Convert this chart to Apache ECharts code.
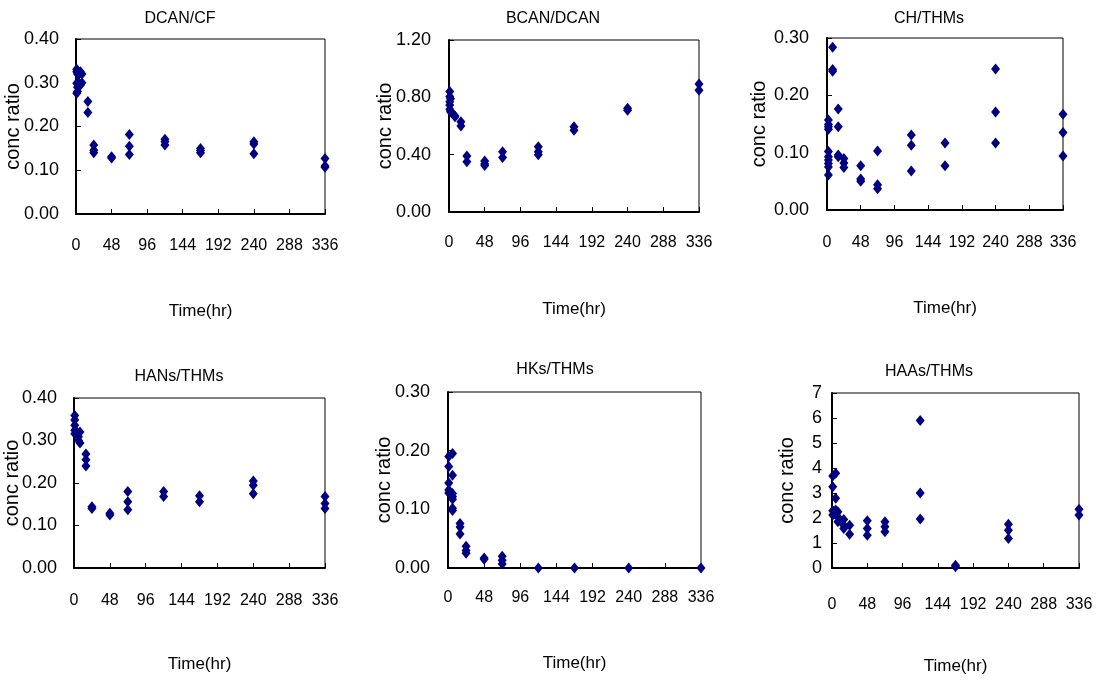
<!DOCTYPE html>
<html>
<head>
<meta charset="utf-8">
<title>conc ratio vs time</title>
<script src="https://cdn.jsdelivr.net/npm/echarts@6/dist/echarts.min.js"></script>
<style>
  html, body { margin: 0; padding: 0; background: #fff; }
  #chart { width: 1104px; height: 680px; }
</style>
</head>
<body>
<div id="chart"></div>
<script>
// panel titles and y-axis scales
var titles = ['DCAN/CF', 'BCAN/DCAN', 'CH/THMs', 'HANs/THMs', 'HKs/THMs', 'HAAs/THMs'];
var yMax = [0.4, 1.2, 0.3, 0.4, 0.3, 7];
var yStep = [0.1, 0.4, 0.1, 0.1, 0.1, 1];
var yDigits = [2, 2, 2, 2, 2, 0];
var timeMax = 336;
var timeStep = 48;

// [time (hr), conc ratio]
var dcanCf = [
  [1, 0.331], [1, 0.325], [1, 0.299], [1, 0.276], [2, 0.32], [2, 0.29], [2, 0.28],
  [4, 0.32], [4, 0.30], [6, 0.325], [6, 0.295], [8, 0.32], [8, 0.30],
  [16, 0.257], [16, 0.232],
  [24, 0.158], [24, 0.146], [24, 0.14],
  [48, 0.131], [48, 0.128],
  [72, 0.182], [72, 0.155], [72, 0.136],
  [120, 0.171], [120, 0.165], [120, 0.158],
  [168, 0.15], [168, 0.145], [168, 0.14],
  [240, 0.165], [240, 0.16], [240, 0.138],
  [336, 0.127], [336, 0.11], [336, 0.107]
];
var bcanDcan = [
  [1, 0.84], [1, 0.805], [1, 0.77], [1, 0.747], [1, 0.717], [2, 0.79], [2, 0.70],
  [4, 0.69], [6, 0.68], [8, 0.665], [8, 0.67],
  [16, 0.63], [16, 0.60],
  [24, 0.39], [24, 0.35],
  [48, 0.355], [48, 0.335], [48, 0.325],
  [72, 0.42], [72, 0.38],
  [120, 0.455], [120, 0.42], [120, 0.40],
  [168, 0.595], [168, 0.57],
  [240, 0.724], [240, 0.71],
  [336, 0.893], [336, 0.85]
];
var chThms = [
  [2, 0.157], [2, 0.149], [2, 0.145], [2, 0.141], [2, 0.102], [2, 0.093],
  [2, 0.087], [2, 0.081], [2, 0.075], [2, 0.061],
  [8, 0.284], [8, 0.245], [8, 0.242],
  [16, 0.176], [16, 0.145], [16, 0.096], [16, 0.093],
  [24, 0.09], [24, 0.082], [24, 0.074],
  [48, 0.077], [48, 0.054], [48, 0.05],
  [72, 0.103], [72, 0.044], [72, 0.037],
  [120, 0.131], [120, 0.113], [120, 0.068],
  [168, 0.117], [168, 0.077],
  [240, 0.246], [240, 0.171], [240, 0.117],
  [336, 0.167], [336, 0.135], [336, 0.094]
];
var hansThms = [
  [1, 0.359], [1, 0.348], [1, 0.336], [1, 0.324], [1, 0.316],
  [4, 0.32], [6, 0.309], [6, 0.30], [8, 0.294], [8, 0.32],
  [16, 0.268], [16, 0.255], [16, 0.24],
  [24, 0.144], [24, 0.14],
  [48, 0.129], [48, 0.125],
  [72, 0.18], [72, 0.156], [72, 0.137],
  [120, 0.18], [120, 0.168],
  [168, 0.17], [168, 0.156],
  [240, 0.205], [240, 0.195], [240, 0.175],
  [336, 0.168], [336, 0.152], [336, 0.14]
];
var hksThms = [
  [1, 0.19], [1, 0.173], [1, 0.145], [1, 0.133], [1, 0.128],
  [6, 0.195], [6, 0.158], [6, 0.127], [6, 0.122], [6, 0.117], [6, 0.102], [6, 0.098],
  [16, 0.076], [16, 0.07], [16, 0.058],
  [24, 0.037], [24, 0.03], [24, 0.025],
  [48, 0.017], [48, 0.015],
  [72, 0.02], [72, 0.013], [72, 0.007],
  [120, 0], [168, 0], [240, 0], [336, 0]
];
var haasThms = [
  [1, 3.68], [1, 3.25], [1, 2.29], [1, 2.12],
  [5, 3.79], [5, 2.79], [5, 2.32], [5, 2.18],
  [8, 2.25], [8, 2.05], [8, 1.85],
  [16, 1.94], [16, 1.71], [16, 1.58],
  [24, 1.71], [24, 1.35],
  [48, 1.89], [48, 1.58], [48, 1.31],
  [72, 1.85], [72, 1.65], [72, 1.45],
  [120, 5.9], [120, 3.0], [120, 1.96],
  [168, 0.11], [168, 0.05],
  [240, 1.75], [240, 1.51], [240, 1.18],
  [336, 2.35], [336, 2.12]
];
var panels = [dcanCf, bcanDcan, chThms, hansThms, hksThms, haasThms];

// layout
var grids = [
  [76, 39, 249, 175], [449, 40, 250, 172], [827, 38, 236, 172],
  [74, 398, 251, 170], [448, 392, 253, 176], [832, 393, 247, 175]
];
var titlePos = [[180, 11], [553, 11], [929, 11], [179, 369], [555, 362], [929, 364]];
var yNameGap = [53, 54, 58, 52, 54, 35];
var xNameGap = [89, 89, 90, 88, 87, 90];
var xLabelMargin = [24, 23, 25, 25, 22, 29];
var yLabelMargin = [17, 18, 18, 17, 18, 10];

var font = 'Liberation Sans, Arial, sans-serif';
var option = { animation: false, backgroundColor: '#fff', title: [], grid: [], xAxis: [], yAxis: [], series: [] };

for (var i = 0; i < 6; i++) {
  var g = grids[i];
  option.title.push({
    text: titles[i], left: titlePos[i][0], top: titlePos[i][1], textAlign: 'center', padding: 0,
    textStyle: { fontFamily: font, fontSize: 16, fontWeight: 'normal', color: '#000' }
  });
  option.grid.push({
    left: g[0], top: g[1], width: g[2], height: g[3],
    show: true, borderColor: '#000', borderWidth: 1, backgroundColor: 'transparent',
    containLabel: false, outerBoundsMode: 'none'
  });
  option.xAxis.push({
    type: 'value', gridIndex: i, min: 0, max: timeMax, interval: timeStep,
    name: 'Time(hr)', nameLocation: 'middle', nameGap: xNameGap[i], nameMoveOverlap: false,
    nameTextStyle: { fontFamily: font, fontSize: 17, color: '#000' },
    axisLine: { show: true, onZero: false, lineStyle: { color: '#000', width: 2 } },
    axisTick: { show: true, inside: true, length: 5, lineStyle: { color: '#000' } },
    axisLabel: { margin: xLabelMargin[i], fontFamily: font, fontSize: 16, color: '#000' },
    splitLine: { show: false }
  });
  option.yAxis.push({
    type: 'value', gridIndex: i, min: 0, max: yMax[i], interval: yStep[i],
    name: 'conc ratio', nameLocation: 'middle', nameGap: yNameGap[i], nameRotate: 90,
    nameMoveOverlap: false,
    nameTextStyle: { fontFamily: font, fontSize: 20, color: '#000' },
    axisLine: { show: true, lineStyle: { color: '#000', width: 2 } },
    axisTick: { show: true, inside: true, length: 5, lineStyle: { color: '#000' } },
    axisLabel: {
      margin: yLabelMargin[i], fontFamily: font, fontSize: 18, color: '#000',
      formatter: (function (d) { return function (v) { return v.toFixed(d); }; })(yDigits[i])
    },
    splitLine: { show: false }
  });
  option.series.push({
    type: 'scatter', xAxisIndex: i, yAxisIndex: i, data: panels[i],
    symbol: 'diamond', symbolSize: [9, 11],
    itemStyle: { color: '#000080', opacity: 1 }
  });
}

var chart = echarts.init(document.getElementById('chart'));
chart.setOption(option);
</script>
</body>
</html>
